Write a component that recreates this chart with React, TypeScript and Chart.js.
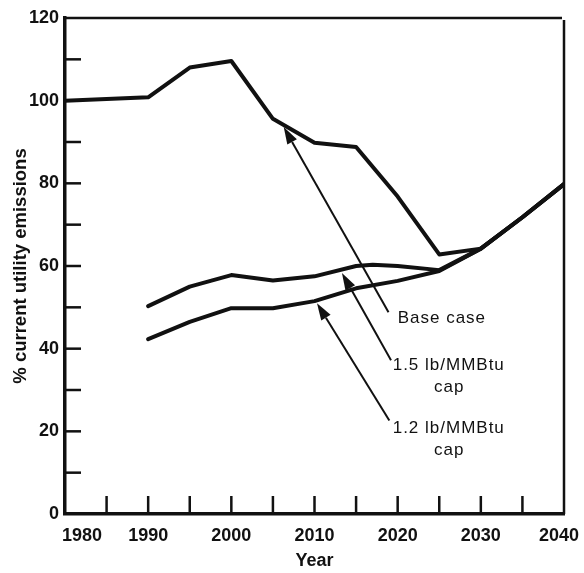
import React, { useEffect, useRef } from "react";
import { Chart, registerables } from "chart.js";

Chart.register(...registerables);

const BASE_YEARS = [1980, 1990, 1995, 2000, 2005, 2010, 2015, 2020, 2025, 2030, 2035, 2040];
const BASE_VALUES = [100, 100.8, 108, 109.6, 95.6, 89.8, 88.8, 76.8, 62.8, 64.2, 71.8, 79.8];

const CAP15_YEARS = [1990, 1995, 2000, 2005, 2010, 2015, 2017, 2020, 2025, 2030, 2035, 2040];
const CAP15_VALUES = [50.3, 55, 57.8, 56.5, 57.5, 60, 60.3, 60, 59, 64.2, 71.8, 79.8];

const CAP12_YEARS = [1990, 1995, 2000, 2005, 2010, 2015, 2020, 2025, 2030, 2035, 2040];
const CAP12_VALUES = [42.3, 46.5, 49.8, 49.8, 51.5, 54.6, 56.4, 58.8, 64.2, 71.8, 79.8];

const X_TICK_LABELS = [1980, 1990, 2000, 2010, 2020, 2030, 2040];
const X_MINOR_TICKS = [1985, 1990, 1995, 2000, 2005, 2010, 2015, 2020, 2025, 2030, 2035];
const Y_MINOR_TICKS = [10, 20, 30, 40, 50, 60, 70, 80, 90, 100, 110];

const ARROWS = [
  { tail: [2018.9, 48.8], tip: [2006.3, 93.6] },
  { tail: [2019.2, 37.2], tip: [2013.3, 58.3] },
  { tail: [2019.0, 22.6], tip: [2010.3, 51.0] },
];

const LABELS = [
  { text: "Base case", x: 2020.0, y: 47.4, align: "left" },
  { text: "1.5 lb/MMBtu", x: 2019.4, y: 36.0, align: "left" },
  { text: "cap", x: 2026.2, y: 30.7, align: "center" },
  { text: "1.2 lb/MMBtu", x: 2019.4, y: 20.8, align: "left" },
  { text: "cap", x: 2026.2, y: 15.3, align: "center" },
];

const INK = "#111";
const FONT = "'Liberation Sans', Arial, sans-serif";

const toPoints = (xs: number[], ys: number[]) => xs.map((x, i) => ({ x, y: ys[i] }));

const decorPlugin = {
  id: "decor",
  afterDraw(chart: any) {
    const { ctx, chartArea } = chart;
    const xs = chart.scales.x;
    const ys = chart.scales.y;
    ctx.save();
    ctx.strokeStyle = INK;
    ctx.fillStyle = INK;

    // top and right frame
    ctx.lineWidth = 2.5;
    ctx.beginPath();
    ctx.moveTo(chartArea.left, chartArea.top);
    ctx.lineTo(chartArea.right - 2, chartArea.top);
    ctx.stroke();
    ctx.beginPath();
    ctx.moveTo(chartArea.right, chartArea.top + 2);
    ctx.lineTo(chartArea.right, chartArea.bottom);
    ctx.stroke();

    // inward ticks
    ctx.lineWidth = 2.5;
    Y_MINOR_TICKS.forEach((v) => {
      const py = ys.getPixelForValue(v);
      ctx.beginPath();
      ctx.moveTo(chartArea.left, py);
      ctx.lineTo(chartArea.left + 16, py);
      ctx.stroke();
    });
    X_MINOR_TICKS.forEach((v) => {
      const px = xs.getPixelForValue(v);
      ctx.beginPath();
      ctx.moveTo(px, chartArea.bottom);
      ctx.lineTo(px, chartArea.bottom - 18);
      ctx.stroke();
    });

    // x tick labels
    ctx.font = `bold 18px ${FONT}`;
    ctx.textAlign = "center";
    ctx.textBaseline = "middle";
    X_TICK_LABELS.forEach((v, i) => {
      let px = xs.getPixelForValue(v);
      if (i === 0) px += 17;
      if (i === X_TICK_LABELS.length - 1) px -= 5;
      ctx.fillText(String(v), px, chartArea.bottom + 22);
    });

    // arrows
    ctx.lineWidth = 2;
    ARROWS.forEach((a) => {
      const x0 = xs.getPixelForValue(a.tail[0]);
      const y0 = ys.getPixelForValue(a.tail[1]);
      const x1 = xs.getPixelForValue(a.tip[0]);
      const y1 = ys.getPixelForValue(a.tip[1]);
      const ang = Math.atan2(y1 - y0, x1 - x0);
      const headLen = 17;
      const headW = 5.5;
      const bx = x1 - headLen * Math.cos(ang);
      const by = y1 - headLen * Math.sin(ang);
      ctx.beginPath();
      ctx.moveTo(x0, y0);
      ctx.lineTo(bx, by);
      ctx.stroke();
      ctx.beginPath();
      ctx.moveTo(x1, y1);
      ctx.lineTo(bx + headW * Math.sin(ang), by - headW * Math.cos(ang));
      ctx.lineTo(bx - headW * Math.sin(ang), by + headW * Math.cos(ang));
      ctx.closePath();
      ctx.fill();
    });

    // annotation labels
    ctx.font = `17px ${FONT}`;
    (ctx as any).letterSpacing = "1px";
    ctx.textBaseline = "middle";
    LABELS.forEach((l) => {
      ctx.textAlign = l.align as CanvasTextAlign;
      ctx.fillText(l.text, xs.getPixelForValue(l.x), ys.getPixelForValue(l.y));
    });
    ctx.restore();
  },
};

export default function App() {
  const ref = useRef<HTMLCanvasElement | null>(null);

  useEffect(() => {
    document.body.style.margin = "0";
    if (!ref.current) return;
    const lineStyle = {
      borderColor: INK,
      borderWidth: 4,
      pointRadius: 0,
      tension: 0,
      fill: false,
      borderJoinStyle: "round" as const,
      borderCapStyle: "round" as const,
    };
    const chart = new Chart(ref.current, {
      type: "line",
      data: {
        datasets: [
          { label: "Base case", data: toPoints(BASE_YEARS, BASE_VALUES), ...lineStyle },
          { label: "1.5 lb/MMBtu cap", data: toPoints(CAP15_YEARS, CAP15_VALUES), ...lineStyle },
          { label: "1.2 lb/MMBtu cap", data: toPoints(CAP12_YEARS, CAP12_VALUES), ...lineStyle },
        ],
      },
      options: {
        animation: false,
        responsive: false,
        devicePixelRatio: 1,
        layout: { padding: { top: 18, right: 20, left: 0, bottom: 0 } },
        plugins: { legend: { display: false }, tooltip: { enabled: false } },
        scales: {
          x: {
            type: "linear",
            min: 1980,
            max: 2040,
            grid: { display: false },
            border: { display: true, width: 3.5, color: INK },
            ticks: { display: false },
            title: {
              display: true,
              text: "Year",
              color: INK,
              font: { family: FONT, size: 18, weight: "bold" },
              padding: { top: 0, bottom: 1 },
            },
            afterFit: (s: any) => {
              s.height = 59;
            },
          },
          y: {
            min: 0,
            max: 120,
            grid: { display: false },
            border: { display: true, width: 3.5, color: INK },
            ticks: {
              stepSize: 20,
              color: INK,
              padding: -2,
              font: { family: FONT, size: 18, weight: "bold" },
            },
            title: {
              display: true,
              text: "% current utility emissions",
              color: INK,
              font: { family: FONT, size: 18.5, weight: "bold" },
              padding: { top: 10, bottom: 0 },
            },
            afterFit: (s: any) => {
              s.width = 65;
            },
          },
        },
      },
      plugins: [decorPlugin],
    });
    return () => chart.destroy();
  }, []);

  return (
    <div style={{ width: 584, height: 573, background: "#fff" }}>
      <canvas ref={ref} width={584} height={573} style={{ display: "block" }} />
    </div>
  );
}
